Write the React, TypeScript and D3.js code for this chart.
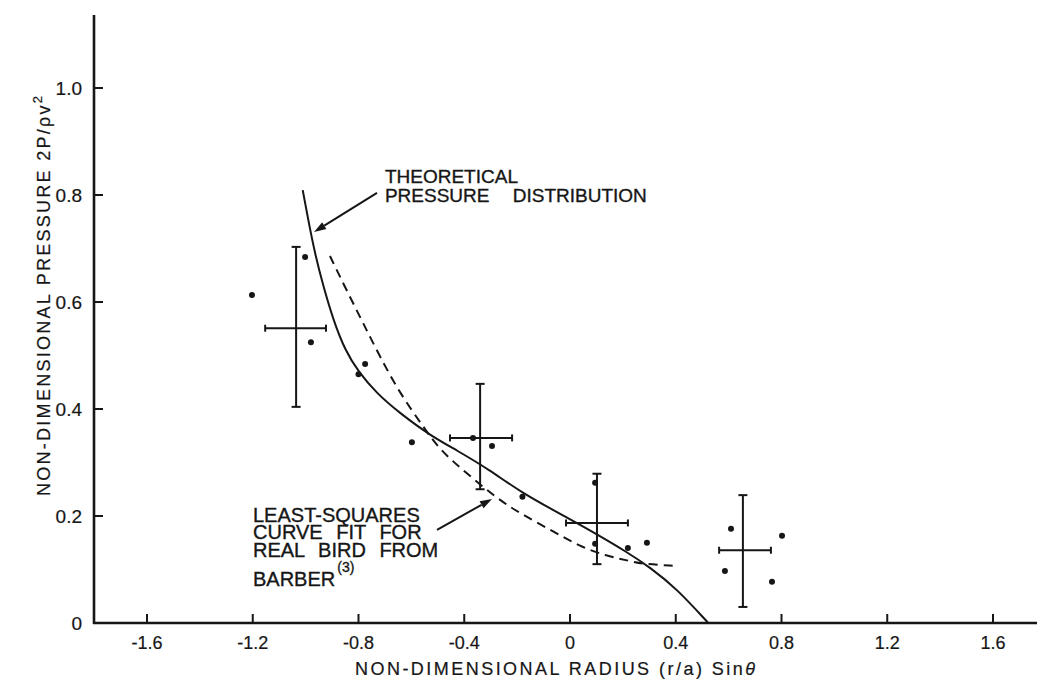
import React from "react";
import * as d3 from "d3";

// ---- data ----
const xTicks = [-1.6, -1.2, -0.8, -0.4, 0, 0.4, 0.8, 1.2, 1.6];
const xTickLabels = ["-1.6", "-1.2", "-0.8", "-0.4", "0", "0.4", "0.8", "1.2", "1.6"];
const yTicks = [0, 0.2, 0.4, 0.6, 0.8, 1.0];
const yTickLabels = ["0", "0.2", "0.4", "0.6", "0.8", "1.0"];

// theoretical pressure distribution (solid)
const theoX = [-1.011, -0.99, -0.965, -0.933, -0.895, -0.851, -0.801, -0.731, -0.643, -0.53, -0.429, -0.303, -0.189, 0.0, 0.101, 0.214, 0.303, 0.404, 0.523];
const theoY = [0.809, 0.753, 0.691, 0.629, 0.566, 0.51, 0.47, 0.429, 0.392, 0.351, 0.323, 0.286, 0.245, 0.194, 0.166, 0.133, 0.104, 0.064, 0.0];

// least-squares fit for real bird (dashed)
const fitX = [-0.908, -0.845, -0.782, -0.719, -0.643, -0.555, -0.492, -0.391, -0.277, -0.189, -0.063, 0.038, 0.139, 0.227, 0.277, 0.397];
const fitY = [0.686, 0.622, 0.56, 0.498, 0.429, 0.367, 0.323, 0.28, 0.233, 0.205, 0.171, 0.143, 0.125, 0.116, 0.11, 0.107];

// measured points
const ptX = [-1.203, -1.002, -0.98, -0.775, -0.8, -0.598, -0.367, -0.295, -0.18, 0.095, 0.095, 0.219, 0.291, 0.609, 0.802, 0.586, 0.764];
const ptY = [0.613, 0.684, 0.525, 0.484, 0.465, 0.338, 0.346, 0.331, 0.236, 0.262, 0.148, 0.14, 0.15, 0.176, 0.163, 0.097, 0.077];

// error-bar groups (mean with ranges)
const grpX = [-1.036, -0.34, 0.102, 0.654];
const grpY = [0.551, 0.346, 0.187, 0.136];
const grpYLow = [0.404, 0.25, 0.11, 0.03];
const grpYHigh = [0.703, 0.447, 0.279, 0.239];
const grpXLow = [-1.153, -0.454, -0.015, 0.564];
const grpXHigh = [-0.923, -0.219, 0.219, 0.76];

// annotations
const note1Lines = ["THEORETICAL", "PRESSURE DISTRIBUTION"];
const note2Lines = ["LEAST-SQUARES", "CURVE FIT FOR", "REAL BIRD FROM"];
const note2Last = "BARBER";
const note2Sup = "(3)";

const INK = "#161616";
const FONT = "'Liberation Sans', Arial, sans-serif";

export default function App() {
  const W = 1037;
  const H = 683;
  const x = d3.scaleLinear().domain([-1.6, 1.6]).range([147, 993]);
  const y = d3.scaleLinear().domain([0, 1]).range([623, 88]);
  const axisX = 94;
  const axisY = y(0);

  const line = d3
    .line<[number, number]>()
    .x((d) => x(d[0]))
    .y((d) => y(d[1]))
    .curve(d3.curveBasis);

  const theo = theoX.map((v, i) => [v, theoY[i]] as [number, number]);
  const fit = fitX.map((v, i) => [v, fitY[i]] as [number, number]);

  const arrow = (x1: number, y1: number, x2: number, y2: number) => {
    const px1 = x(x1), py1 = y(y1), px2 = x(x2), py2 = y(y2);
    const ang = Math.atan2(py2 - py1, px2 - px1);
    const L = 12, Wd = 4;
    const bx = px2 - L * Math.cos(ang), by = py2 - L * Math.sin(ang);
    const p1 = [bx + Wd * Math.sin(ang), by - Wd * Math.cos(ang)];
    const p2 = [bx - Wd * Math.sin(ang), by + Wd * Math.cos(ang)];
    return (
      <g>
        <line x1={px1} y1={py1} x2={bx} y2={by} stroke={INK} strokeWidth={2} />
        <path d={`M${px2},${py2}L${p1[0]},${p1[1]}L${p2[0]},${p2[1]}Z`} fill={INK} />
      </g>
    );
  };

  const n1x = x(-0.7);
  const n1y = [y(0.823), y(0.786)];
  const n2x = x(-1.199);
  const n2y = [y(0.189), y(0.157), y(0.123), y(0.069)];

  const textStyle = { fontFamily: FONT, fill: INK, stroke: INK, strokeWidth: 0.35 } as const;

  return (
    <svg width={W} height={H} style={{ display: "block", position: "absolute", left: 0, top: 0, background: "#fff" }}>
      <rect x={0} y={0} width={W} height={H} fill="#fff" />
      {/* axes */}
      <line x1={axisX} y1={15} x2={axisX} y2={axisY + 1} stroke={INK} strokeWidth={2.6} />
      <line x1={axisX - 1} y1={axisY} x2={W} y2={axisY} stroke={INK} strokeWidth={2.6} />
      {xTicks.map((t, i) => (
        <g key={"xt" + i}>
          <line x1={x(t)} y1={axisY} x2={x(t)} y2={axisY - 9} stroke={INK} strokeWidth={2} />
          <text x={x(t)} y={axisY + 26} textAnchor="middle" fontSize={18} {...textStyle} strokeWidth={0.2}>
            {xTickLabels[i]}
          </text>
        </g>
      ))}
      {yTicks.map((t, i) => (
        <g key={"yt" + i}>
          {t > 0 && <line x1={axisX} y1={y(t)} x2={axisX + 9} y2={y(t)} stroke={INK} strokeWidth={2} />}
          <text x={82} y={y(t) + 7} textAnchor="end" fontSize={19} {...textStyle} strokeWidth={0.2}>
            {yTickLabels[i]}
          </text>
        </g>
      ))}
      {/* axis titles */}
      <text
        x={555}
        y={675}
        textAnchor="middle"
        fontSize={18}
        textLength={400}
        lengthAdjust="spacing"
        {...textStyle}
        strokeWidth={0.2}
      >
        NON-DIMENSIONAL RADIUS (r/a) Sin<tspan fontStyle="italic">θ</tspan>
      </text>
      <text
        transform={`translate(50,${296}) rotate(-90)`}
        textAnchor="middle"
        fontSize={18}
        textLength={400}
        lengthAdjust="spacing"
        {...textStyle}
        strokeWidth={0.2}
      >
        NON-DIMENSIONAL PRESSURE 2P/ρv<tspan fontSize={13} dy={-8}>2</tspan>
      </text>

      {/* curves */}
      <path d={line(theo) || ""} fill="none" stroke={INK} strokeWidth={2} />
      <path d={line(fit) || ""} fill="none" stroke={INK} strokeWidth={2} strokeDasharray="9,6" />

      {/* error bars */}
      {grpX.map((gx, i) => (
        <g key={"eb" + i} stroke={INK} strokeWidth={2}>
          <line x1={x(gx)} y1={y(grpYLow[i])} x2={x(gx)} y2={y(grpYHigh[i])} />
          <line x1={x(gx) - 4.5} y1={y(grpYLow[i])} x2={x(gx) + 4.5} y2={y(grpYLow[i])} />
          <line x1={x(gx) - 4.5} y1={y(grpYHigh[i])} x2={x(gx) + 4.5} y2={y(grpYHigh[i])} />
          <line x1={x(grpXLow[i])} y1={y(grpY[i])} x2={x(grpXHigh[i])} y2={y(grpY[i])} />
          <line x1={x(grpXLow[i])} y1={y(grpY[i]) - 3.5} x2={x(grpXLow[i])} y2={y(grpY[i]) + 3.5} />
          <line x1={x(grpXHigh[i])} y1={y(grpY[i]) - 3.5} x2={x(grpXHigh[i])} y2={y(grpY[i]) + 3.5} />
        </g>
      ))}

      {/* points */}
      {ptX.map((px, i) => (
        <circle key={"p" + i} cx={x(px)} cy={y(ptY[i])} r={3} fill={INK} />
      ))}

      {/* annotations */}
      <text fontSize={19} wordSpacing={18} {...textStyle}>
        {note1Lines.map((s, i) => (
          <tspan key={"n1" + i} x={n1x} y={n1y[i]}>
            {s}
          </tspan>
        ))}
      </text>
      {arrow(-0.73, 0.804, -0.968, 0.731)}
      <text fontSize={20} wordSpacing={8} {...textStyle}>
        {note2Lines.map((s, i) => (
          <tspan key={"n2" + i} x={n2x} y={n2y[i]}>
            {s}
          </tspan>
        ))}
        <tspan x={n2x} y={n2y[3]}>{note2Last}</tspan>
        <tspan fontSize={14} dy={-14} dx={2}>{note2Sup}</tspan>
      </text>
      {arrow(-0.503, 0.174, -0.295, 0.232)}
    </svg>
  );
}
